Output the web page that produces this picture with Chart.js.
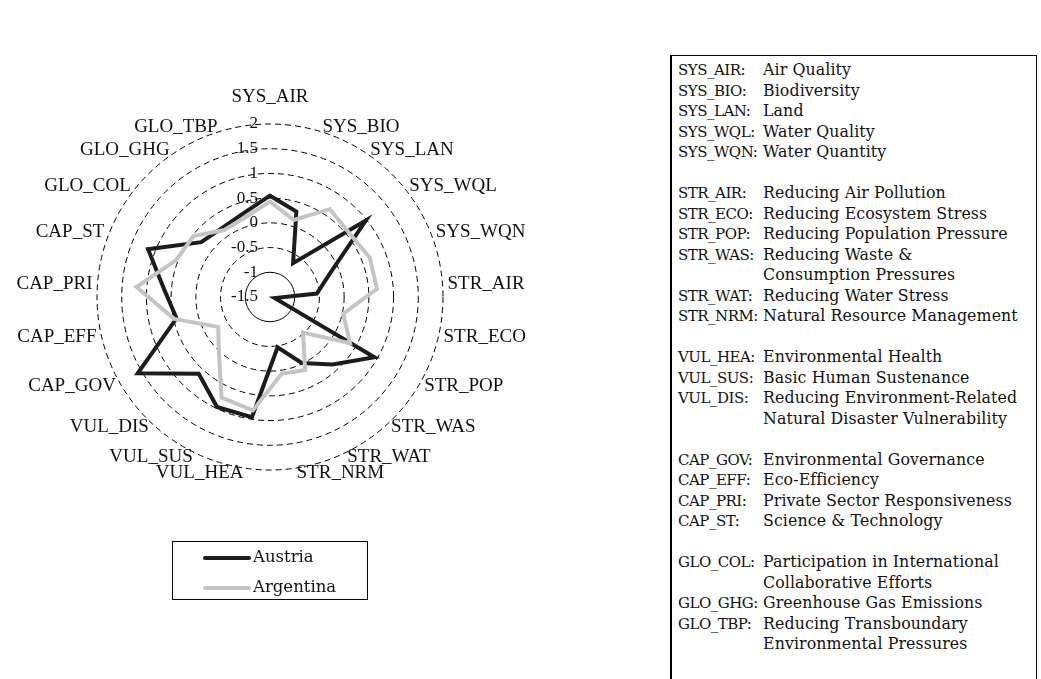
<!DOCTYPE html>
<html>
<head>
<meta charset="utf-8">
<script src="https://cdn.jsdelivr.net/npm/chart.js@4.4.0/dist/chart.umd.min.js"></script>
<style>
  html, body { margin: 0; padding: 0; background: #fff; }
  body { width: 1041px; height: 679px; position: relative; overflow: hidden; font-family: "Liberation Serif", serif; color: #111; }
  #chartBox { position: absolute; left: 0; top: 0; width: 560px; height: 679px; }
  #legend { position: absolute; left: 172px; top: 541px; width: 196px; height: 59px; border: 1px solid #000; box-sizing: border-box; font-family: "DejaVu Serif", serif; font-size: 16.5px; }
  .leg-row { position: absolute; left: 0; height: 20px; line-height: 20px; }
  .leg-line { position: absolute; left: 30px; width: 48px; height: 4px; border-radius: 2px; }
  .leg-text { position: absolute; left: 80px; top: 0; white-space: nowrap; }
  #key { position: absolute; left: 670px; top: 55px; width: 367px; height: 640px; border: 1px solid #000; border-left-width: 2px; box-sizing: border-box; padding-top: 4px; font-family: "DejaVu Serif", serif; }
  .key-row { height: 20.5px; line-height: 20.5px; position: relative; white-space: nowrap; }
  .key-code { position: absolute; left: 6px; font-size: 15px; letter-spacing: -0.5px; }
  .key-desc { position: absolute; left: 91px; font-size: 15.8px; letter-spacing: 0.1px; }
</style>
</head>
<body>
<div id="chartBox"><canvas id="radar" width="560" height="679"></canvas></div>
<div id="legend"></div>
<div id="key"></div>
<script>
document.addEventListener("DOMContentLoaded", () => {

  // axes, clockwise from the top
  const categories = ["SYS_AIR", "SYS_BIO", "SYS_LAN", "SYS_WQL", "SYS_WQN",
    "STR_AIR", "STR_ECO", "STR_POP", "STR_WAS", "STR_WAT", "STR_NRM",
    "VUL_HEA", "VUL_SUS", "VUL_DIS",
    "CAP_GOV", "CAP_EFF", "CAP_PRI", "CAP_ST",
    "GLO_COL", "GLO_GHG", "GLO_TBP"];

  const austria = [0.55, 0.31, -0.67, 0.98, -0.2, -0.55, -1.4, 0.94, 0.36, -0.02, -0.47,
    0.96, 0.97, 0.62, 1.59, 0.44, 0.65, 1.15, 0.28, 0.2, 0.28];
  const argentina = [0.43, 0.13, 0.65, 0.56, 0.67, 0.67, 0.02, 0.37, -0.52, 0.14, 0.07,
    0.82, 0.76, 0.02, -0.29, 0.49, 1.21, 0.54, 0.48, 0.14, 0.19];

  const seriesNames = ["Austria", "Argentina"];
  const seriesColors = ["#1c1c1c", "#c4c4c4"];

  const tickLabels = ["-1.5", "-1", "-0.5", "0", "0.5", "1", "1.5", "2"];

  // right hand key, "" = blank line
  const keyCodes = ["SYS_AIR:", "SYS_BIO:", "SYS_LAN:", "SYS_WQL:", "SYS_WQN:", "",
    "STR_AIR:", "STR_ECO:", "STR_POP:", "STR_WAS:", "", "STR_WAT:", "STR_NRM:", "",
    "VUL_HEA:", "VUL_SUS:", "VUL_DIS:", "", "",
    "CAP_GOV:", "CAP_EFF:", "CAP_PRI:", "CAP_ST:", "",
    "GLO_COL:", "", "GLO_GHG:", "GLO_TBP:", ""];
  const keyTexts = ["Air Quality", "Biodiversity", "Land", "Water Quality", "Water Quantity", "",
    "Reducing Air Pollution", "Reducing Ecosystem Stress", "Reducing Population Pressure",
    "Reducing Waste &", "Consumption Pressures", "Reducing Water Stress", "Natural Resource Management", "",
    "Environmental Health", "Basic Human Sustenance", "Reducing Environment-Related",
    "Natural Disaster Vulnerability", "",
    "Environmental Governance", "Eco-Efficiency", "Private Sector Responsiveness", "Science & Technology", "",
    "Participation in International", "Collaborative Efforts", "Greenhouse Gas Emissions",
    "Reducing Transboundary", "Environmental Pressures"];

  const FONT = '"Liberation Serif", serif';

  // tick labels, left of the vertical axis
  const tickText = {
    id: "tickText",
    beforeDatasetsDraw(chart) {
      const s = chart.scales.r;
      const ctx = chart.ctx;
      ctx.save();
      ctx.font = "17px " + FONT;
      ctx.fillStyle = "#111";
      ctx.textAlign = "right";
      ctx.textBaseline = "middle";
      s.ticks.forEach((t, i) => {
        const d = s.getDistanceFromCenterForValue(t.value);
        ctx.fillText(tickLabels[i], s.xCenter - 12, s.yCenter - d);
      });
      ctx.restore();
    }
  };

  // axis names round the outside
  const axisText = {
    id: "axisText",
    afterDraw(chart) {
      const s = chart.scales.r;
      const ctx = chart.ctx;
      ctx.save();
      ctx.font = "19px " + FONT;
      ctx.fillStyle = "#111";
      ctx.textBaseline = "middle";
      categories.forEach((lab, i) => {
        const pad = i === 0 ? 27 : 5;
        const p = s.getPointPosition(i, s.drawingArea + pad);
        const sx = Math.sin(s.getIndexAngle(i));
        ctx.textAlign = Math.abs(sx) < 0.05 ? "center" : (sx > 0 ? "left" : "right");
        ctx.fillText(lab, p.x, p.y);
      });
      ctx.restore();
    }
  };

  new Chart(document.getElementById("radar"), {
    type: "radar",
    data: {
      labels: categories,
      datasets: [
        { label: seriesNames[0], data: austria, borderColor: seriesColors[0], borderWidth: 4, order: 2 },
        { label: seriesNames[1], data: argentina, borderColor: seriesColors[1], borderWidth: 4, order: 1 }
      ]
    },
    options: {
      responsive: false,
      animation: false,
      layout: { padding: { left: 97, right: 117, top: 124, bottom: 209 } },
      elements: {
        line: { fill: false, tension: 0, borderJoinStyle: "miter" },
        point: { radius: 0, hoverRadius: 0 }
      },
      plugins: { legend: { display: false }, tooltip: { enabled: false } },
      scales: {
        r: {
          min: -1.5, max: 2,
          ticks: { stepSize: 0.5, display: false },
          angleLines: { display: false },
          pointLabels: { display: false },
          grid: { circular: true, color: "#000", lineWidth: 1 },
          border: { dash: c => (c.tick && c.tick.value === -1) ? [] : [6, 4] }
        }
      }
    },
    plugins: [tickText, axisText]
  });

  // legend box
  const legendEl = document.getElementById("legend");
  seriesNames.forEach((name, i) => {
    const row = document.createElement("div");
    row.className = "leg-row";
    row.style.top = (5 + i * 30) + "px";
    row.style.width = "194px";
    row.innerHTML = `<div class="leg-line" style="top:9px;background:${seriesColors[i]}"></div><div class="leg-text">${name}</div>`;
    legendEl.appendChild(row);
  });

  // key on the right
  const keyEl = document.getElementById("key");
  keyCodes.forEach((code, i) => {
    const row = document.createElement("div");
    row.className = "key-row";
    const c = document.createElement("span");
    c.className = "key-code";
    c.textContent = code;
    const d = document.createElement("span");
    d.className = "key-desc";
    d.textContent = keyTexts[i];
    row.appendChild(c);
    row.appendChild(d);
    keyEl.appendChild(row);
  });

});
</script>
</body>
</html>
